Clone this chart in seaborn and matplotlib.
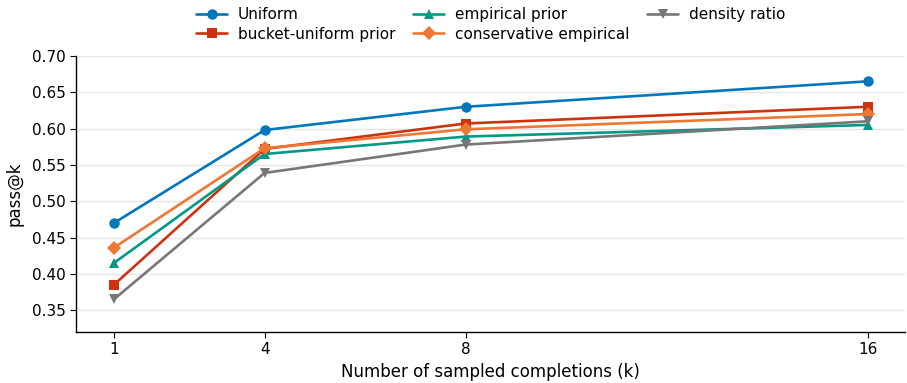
import pandas as pd
import numpy as np
import matplotlib
matplotlib.use('Agg')
import matplotlib.pyplot as plt
import seaborn as sns

# Data
k_values = [1, 4, 8, 16]
uniform = [0.470, 0.598, 0.630, 0.665]
bucket_uniform = [0.385, 0.572, 0.607, 0.630]
empirical_prior = [0.415, 0.565, 0.589, 0.605]
conservative_empirical = [0.436, 0.573, 0.599, 0.620]
density_ratio = [0.365, 0.539, 0.578, 0.610]

method_names = ['Uniform', 'bucket-uniform prior', 'empirical prior',
                'conservative empirical', 'density ratio']
series = [uniform, bucket_uniform, empirical_prior, conservative_empirical, density_ratio]

colors = ['#0077BB', '#CC3311', '#009988', '#EE7733', '#777777']
markers = ['o', 's', '^', 'D', 'v']

rows = []
for name, vals in zip(method_names, series):
    for k, v in zip(k_values, vals):
        rows.append({'k': k, 'pass@k': v, 'method': name})
df = pd.DataFrame(rows)

sns.set_style('white')
plt.rcParams['font.family'] = ['DejaVu Sans']
plt.rcParams['text.color'] = 'black'
plt.rcParams['axes.labelcolor'] = 'black'
plt.rcParams['xtick.color'] = 'black'
plt.rcParams['ytick.color'] = 'black'

fig = plt.figure(figsize=(9.07, 3.83), dpi=100)
ax = fig.add_axes([0.084, 0.133, 0.914, 0.721])

sns.lineplot(data=df, x='k', y='pass@k', hue='method', style='method',
             hue_order=method_names, style_order=method_names,
             palette=dict(zip(method_names, colors)),
             markers=dict(zip(method_names, markers)), dashes=False,
             linewidth=1.9, markersize=7.5, markeredgewidth=0, ax=ax)

ax.set_xlim(0.25, 16.75)
ax.set_ylim(0.32, 0.70)
ax.set_xticks(k_values)
ax.set_yticks(np.arange(0.35, 0.701, 0.05))
ax.yaxis.grid(True, color='#e6e6e6', linewidth=1)
ax.set_axisbelow(True)
ax.tick_params(axis='both', labelsize=11, length=4, color='black', left=True, bottom=True)
ax.set_xlabel('Number of sampled completions (k)', fontsize=12)
ax.set_ylabel('pass@k', fontsize=12, labelpad=6)
for s in ['top', 'right']:
    ax.spines[s].set_visible(False)
for s in ['left', 'bottom']:
    ax.spines[s].set_color('black')
    ax.spines[s].set_linewidth(1)

handles, labels = ax.get_legend_handles_labels()
ax.legend(handles, labels, loc='lower center', bbox_to_anchor=(0.5, 1.03), ncol=3,
          frameon=False, fontsize=11, handlelength=2, columnspacing=1.2,
          handletextpad=0.7, borderaxespad=0.0, labelspacing=0.3)

fig.savefig('out.png', dpi=100)
